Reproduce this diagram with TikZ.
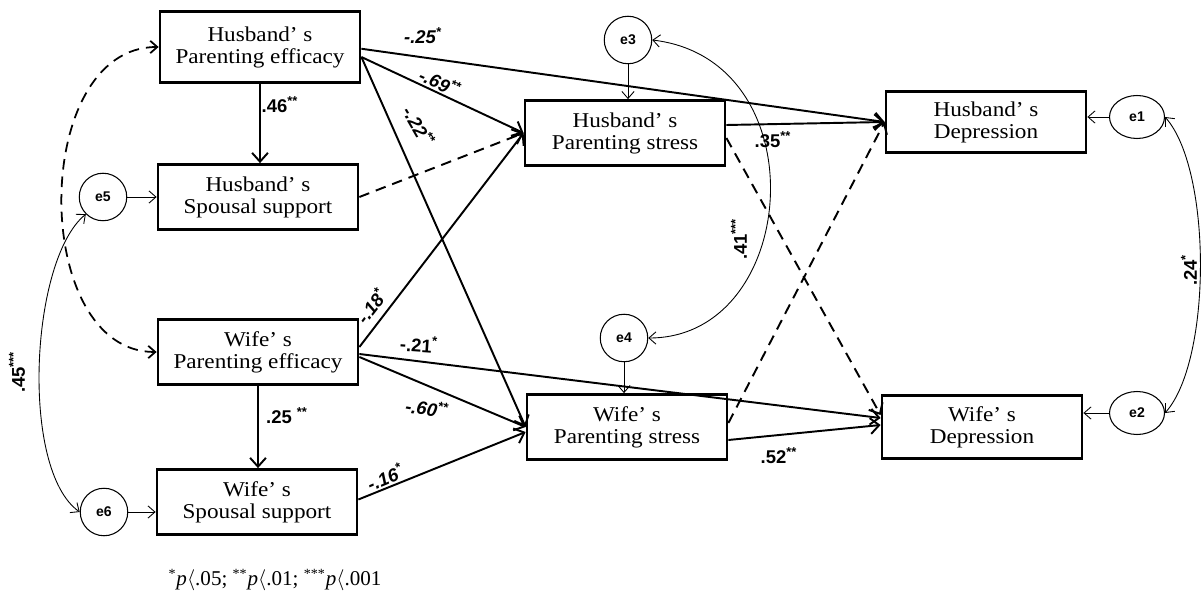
\documentclass[tikz,border=0pt]{standalone}
\usepackage{fontspec}
\setmainfont{Liberation Serif}
\setsansfont{Liberation Sans}
\newfontfamily\boxfont[FakeStretch=1.1]{Liberation Serif}
\usetikzlibrary{arrows.meta,shapes.geometric}

\begin{document}
\begin{tikzpicture}[x=0.02cm,y=-0.02cm]

\tikzset{VarBox/.style={draw,line width=1.6pt,minimum width=4cm,minimum height=1.3cm,align=center,inner sep=2pt,font=\boxfont\fontsize{12}{12.5}\selectfont}};
\tikzset{ErrNode/.style={draw,circle,line width=0.6pt,minimum size=0.95cm,inner sep=0pt,font=\sffamily\bfseries\fontsize{8}{8}\selectfont}};
\tikzset{PathArr/.style={line width=1.1pt,-{Straight Barb[length=5pt,width=9pt]}}};
\tikzset{NsArr/.style={PathArr,dash pattern=on 6pt off 4pt}};
\tikzset{ThinArr/.style={line width=0.5pt,-{Straight Barb[length=4pt,width=7pt]}}};
\tikzset{CovArr/.style={line width=0.5pt,{Straight Barb[length=4pt,width=7pt]}-{Straight Barb[length=4pt,width=7pt]}}};
\tikzset{CoefLbl/.style={font=\sffamily\bfseries\fontsize{10.5}{11}\selectfont,inner sep=0pt}};

\useasboundingbox (0,0) rectangle (1203,594);

\begin{scope}

% observed variables
\node[VarBox,minimum height=1.42cm] (hpe) at (260,47) {Husband’ s\\Parenting efficacy};
\node[VarBox] (hss) at (258,197) {Husband’ s\\Spousal support};
\node[VarBox] (wpe) at (258,352) {Wife’ s\\Parenting efficacy};
\node[VarBox] (wss) at (257,502) {Wife’ s\\Spousal support};
\node[VarBox] (hps) at (625,133) {Husband’ s\\Parenting stress};
\node[VarBox] (wps) at (627,427) {Wife’ s\\Parenting stress};
\node[VarBox,minimum height=1.22cm] (hd) at (986,122) {Husband’ s\\Depression};
\node[VarBox,minimum height=1.26cm] (wd) at (982,427) {Wife’ s\\Depression};

% errors
\node[ErrNode] (e3) at (628,40) {e3};
\node[ErrNode] (e4) at (624,338) {e4};
\node[ErrNode] (e5) at (103,197) {e5};
\node[ErrNode] (e6) at (104,512) {e6};
\node[ErrNode,ellipse,minimum width=1.1cm,minimum height=0.86cm] (e1) at (1137,117) {e1};
\node[ErrNode,ellipse,minimum width=1.1cm,minimum height=0.86cm] (e2) at (1137,413) {e2};

\draw[ThinArr] (e3.south) -- (e3.south |- hps.north);
\draw[ThinArr] (e4.south) -- (e4.south |- wps.north);
\draw[ThinArr] (e5.east) -- (e5.east -| hss.west);
\draw[ThinArr] (e6.east) -- (e6.east -| wss.west);
\draw[ThinArr] (e1.west) -- (e1.west -| hd.east);
\draw[ThinArr] (e2.west) -- (e2.west -| wd.east);

% paths
\draw[PathArr] (hpe.south) -- (hpe.south |- hss.north);
\draw[PathArr] (wpe.south) -- (wpe.south |- wss.north);
\draw[PathArr] ([yshift=-1pt]hpe.east) -- (hd.west);
\draw[PathArr] ([yshift=-0.2cm]hpe.east) -- (hps.west);
\draw[PathArr] ([yshift=-0.2cm]hpe.east) -- (wps.west);
\draw[NsArr] (hss.east) -- (hps.west);
\draw[PathArr] ([yshift=0.1cm]wpe.east) -- (hps.west);
\draw[PathArr] ([yshift=-0.04cm]wpe.east) -- ([yshift=0.18cm]wd.west);
\draw[PathArr] ([yshift=-0.1cm]wpe.east) -- (wps.west);
\draw[PathArr] ([yshift=0.05cm]wss.east) -- ([yshift=-0.1cm]wps.west);
\draw[PathArr] ([yshift=0.16cm]hps.east) -- (hd.west);
\draw[NsArr] ([yshift=-0.1cm]hps.east) -- ([yshift=0.24cm]wd.west);
\draw[NsArr] ([yshift=0.08cm]wps.east) -- (hd.west);
\draw[PathArr] ([yshift=-0.26cm]wps.east) -- ([yshift=0.04cm]wd.west);

% covariances
\draw[CovArr] (e3.east) .. controls (820,60) and (800,338) .. (e4.east);
\draw[CovArr] (e5.south west) .. controls (30,260) and (20,470) .. (e6.west);
\draw[CovArr] (e1.east) .. controls (1212,170) and (1212,360) .. (e2.east);
\draw[CovArr,line width=1pt,dash pattern=on 6pt off 4pt] (hpe.west) .. controls (30,47) and (30,352) .. (wpe.west);

% coefficients
\node[CoefLbl] (c1) at (423,36) {\itshape -.25\textsuperscript{*}};
\node[CoefLbl,rotate=-25] (c2) at (440,82) {\itshape -.69\textsuperscript{**}};
\node[CoefLbl,rotate=-60] (c3) at (419,126) {\itshape -.22\textsuperscript{**}};
\node[CoefLbl] (c4) at (280,105) {.46\textsuperscript{**}};
\node[CoefLbl,rotate=52] (c5) at (371,306) {\itshape -.18\textsuperscript{*}};
\node[CoefLbl,rotate=-4] (c6) at (419,344) {-.21\textsuperscript{*}};
\node[CoefLbl,rotate=-10] (c7) at (427,408) {\itshape -.60\textsuperscript{**}};
\node[CoefLbl] (c8) at (287,416) {.25 \textsuperscript{**}};
\node[CoefLbl,rotate=23] (c9) at (385,477) {\itshape -.16\textsuperscript{*}};
\node[CoefLbl] (c10) at (773,140) {.35\textsuperscript{**}};
\node[CoefLbl] (c11) at (779,456) {.52\textsuperscript{**}};
\node[CoefLbl,rotate=90] (c12) at (739,239) {.41\textsuperscript{***}};
\node[CoefLbl,rotate=90] (c13) at (17,372) {.45\textsuperscript{***}};
\node[CoefLbl,rotate=90] (c14) at (1189,270) {.24\textsuperscript{*}};

\node[font=\fontsize{12}{12}\selectfont] (note) at (275,580) {\textsuperscript{*}\textit{p}$\langle$.05; \textsuperscript{**}\textit{p}$\langle$.01; \textsuperscript{***}\textit{p}$\langle$.001};

\end{scope}

\end{tikzpicture}
\end{document}
